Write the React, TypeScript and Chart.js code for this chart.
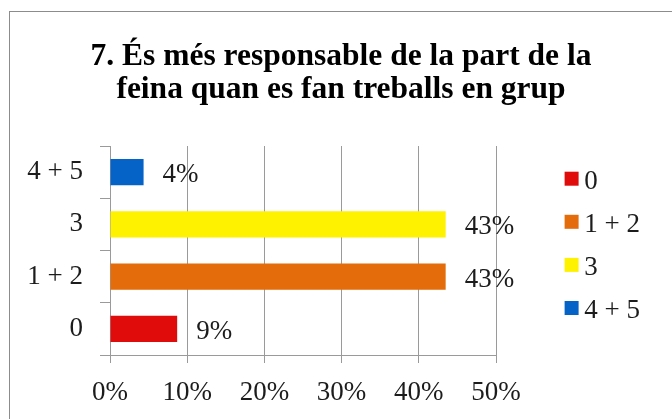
import React, { useEffect, useRef } from 'react';
import { Chart, registerables } from 'chart.js';

Chart.register(...registerables);

const categories = ['0', '1 + 2', '3', '4 + 5'];
const values = [8.7, 43.48, 43.48, 4.35];
const barColors = ['#E00B0B', '#E46C0A', '#FFF200', '#0563C8'];
const xTickValues = [0, 10, 20, 30, 40, 50];
const titleLines = ['7. És més responsable de la part de la', 'feina quan es fan treballs en grup'];

const FONT = '"Liberation Serif", "Times New Roman", serif';
const TEXT = '#1c1c1c';
const GRID = '#9a9a9a';

const dataLabelPlugin = {
  id: 'dataLabelPlugin',
  afterDatasetsDraw(chart: any) {
    const ctx = chart.ctx;
    const meta = chart.getDatasetMeta(0);
    ctx.save();
    ctx.font = `27px ${FONT}`;
    ctx.fillStyle = TEXT;
    ctx.textAlign = 'left';
    ctx.textBaseline = 'middle';
    meta.data.forEach((el: any, i: number) => {
      const v = chart.data.datasets[0].data[i];
      ctx.fillText(Math.round(v) + '%', el.x + 19, el.y + 3);
    });
    ctx.restore();
  },
};

const legendPlugin = {
  id: 'customLegend',
  afterDraw(chart: any) {
    const ctx = chart.ctx;
    const area = chart.chartArea;
    const ds = chart.data.datasets[0];
    const x0 = area.right + 68.6;
    ctx.save();
    ctx.font = `27px ${FONT}`;
    ctx.textAlign = 'left';
    ctx.textBaseline = 'middle';
    chart.data.labels.forEach((lab: string, i: number) => {
      const top = area.top + 25.7 + i * 43.1;
      ctx.fillStyle = ds.backgroundColor[i];
      ctx.fillRect(x0, top, 14, 14);
      ctx.fillStyle = TEXT;
      ctx.fillText(lab, x0 + 19.7, top + 10);
    });
    ctx.restore();
  },
};

export default function App() {
  const canvasRef = useRef<HTMLCanvasElement | null>(null);

  useEffect(() => {
    if (!canvasRef.current) return;
    const chart = new Chart(canvasRef.current, {
      type: 'bar',
      data: {
        labels: categories,
        datasets: [
          {
            data: values,
            backgroundColor: barColors,
            borderWidth: 0,
            barPercentage: 0.5,
            categoryPercentage: 1.0,
          },
        ],
      },
      options: {
        indexAxis: 'y',
        responsive: false,
        animation: false,
        events: [],
        layout: { padding: 0 },
        plugins: {
          legend: { display: false },
          tooltip: { enabled: false },
          title: {
            display: true,
            text: titleLines,
            color: '#000',
            font: { family: FONT, size: 31.5, weight: 'bold', lineHeight: 33 / 31.5 },
            padding: { top: 28, bottom: 40 },
          },
        },
        scales: {
          x: {
            min: 0,
            max: 50,
            afterBuildTicks: (scale: any) => {
              scale.ticks = xTickValues.map((v) => ({ value: v }));
            },
            afterFit: (scale: any) => {
              scale.height = 64;
            },
            grid: { color: GRID, lineWidth: 1, tickLength: 8, drawTicks: true },
            border: { color: GRID, width: 1 },
            ticks: {
              color: TEXT,
              font: { family: FONT, size: 27 },
              padding: 14,
              maxRotation: 0,
              callback: (v: any) => v + '%',
            },
          },
          y: {
            reverse: true,
            afterFit: (scale: any) => {
              scale.width = 100;
            },
            grid: { drawOnChartArea: false, color: GRID, tickLength: 10, offset: true },
            border: { color: GRID, width: 1 },
            ticks: {
              color: TEXT,
              font: { family: FONT, size: 27 },
              padding: 17,
            },
          },
          legendSpace: {
            type: 'linear',
            axis: 'y',
            position: 'right',
            display: true,
            grid: { display: false, drawTicks: false },
            border: { display: false },
            ticks: { display: false },
            afterFit: (scale: any) => {
              scale.width = 176;
            },
          },
        },
      },
      plugins: [dataLabelPlugin, legendPlugin],
    } as any);
    return () => chart.destroy();
  }, []);

  return (
    <div style={{ position: 'fixed', left: 0, top: 0, width: 672, height: 419, overflow: 'hidden', background: '#fff' }}>
      <div
        style={{
          position: 'absolute',
          left: 9,
          top: 11,
          width: 700,
          height: 460,
          border: '1px solid #8c8c8c',
          background: '#fff',
        }}
      >
        <canvas ref={canvasRef} width={662} height={407} style={{ position: 'absolute', left: 0, top: 0, width: 662, height: 407 }} />
      </div>
    </div>
  );
}
